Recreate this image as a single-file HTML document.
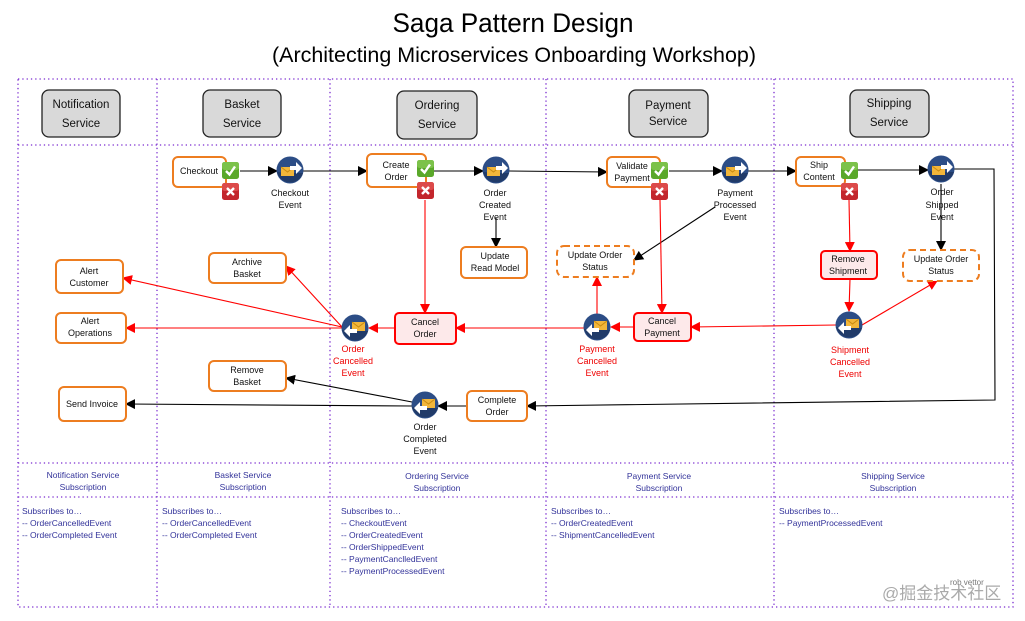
<!DOCTYPE html>
<html><head><meta charset="utf-8"><style>
html,body{margin:0;padding:0;background:#fff;width:1025px;height:621px;overflow:hidden}
svg{display:block;font-family:"Liberation Sans",sans-serif}
.n{font-size:9px;fill:#111;text-anchor:middle}
.r{font-size:9px;fill:#e00;text-anchor:middle}
.s{font-size:8.5px;fill:#33339a}
.sc{font-size:8.5px;fill:#33339a;text-anchor:middle}
.h{font-size:11.5px;fill:#111;text-anchor:middle}
</style></head><body>
<svg width="1025" height="621" viewBox="0 0 1025 621">
<defs>
<marker id="ab" markerWidth="10" markerHeight="10" refX="9" refY="5" orient="auto" markerUnits="userSpaceOnUse"><path d="M0,0 L10,5 L0,10z" fill="#000"/></marker>
<marker id="ar" markerWidth="10" markerHeight="10" refX="9" refY="5" orient="auto" markerUnits="userSpaceOnUse"><path d="M0,0 L10,5 L0,10z" fill="#f00"/></marker>
<g id="evR"><circle r="13.5" fill="#2c4d86"/><path d="M-13,2 A13.5,13.5 0 0 0 13,3 L0,3z" fill="#213b69"/><rect x="-9" y="-3" width="13" height="9" fill="#f2b63a"/><path d="M-9,-3 L-2.5,2 L4,-3" fill="none" stroke="#c98a10" stroke-width="1"/><path d="M0,-4 L6,-4 L6,-8 L12,-2 L6,4 L6,0 L0,0z" fill="#fff"/></g>
<g id="evL"><circle r="13.5" fill="#2c4d86"/><path d="M-13,2 A13.5,13.5 0 0 0 13,3 L0,3z" fill="#213b69"/><rect x="-3" y="-6" width="13" height="9" fill="#f2b63a"/><path d="M-3,-6 L3.5,-1 L10,-6" fill="none" stroke="#c98a10" stroke-width="1"/><path d="M2,1 L-5,1 L-5,-3 L-11,3 L-5,9 L-5,5 L2,5z" fill="#fff"/></g>
<g id="ok"><rect width="17" height="17" rx="2.5" fill="#5aa82a"/><rect width="17" height="8" rx="2.5" fill="#7cc24a"/><path d="M4,9 L7.5,12.5 L13,4.5" fill="none" stroke="#fff" stroke-width="2.4"/></g>
<g id="no"><rect width="17" height="17" rx="2.5" fill="#c3262c"/><rect width="17" height="8" rx="2.5" fill="#dc4a4a"/><path d="M5,5 L12,12 M12,5 L5,12" stroke="#fff" stroke-width="2.4"/></g>
</defs>

<text x="513" y="32" font-size="27" text-anchor="middle" textLength="241" lengthAdjust="spacingAndGlyphs">Saga Pattern Design</text>
<text x="514" y="62" font-size="21" text-anchor="middle" textLength="484" lengthAdjust="spacingAndGlyphs">(Architecting Microservices Onboarding Workshop)</text>

<g stroke="#7a2bd0" stroke-width="1.3" stroke-dasharray="1.3,3" fill="none">
<rect x="18" y="79" width="995" height="528"/>
<line x1="18" y1="145" x2="1013" y2="145"/>
<line x1="18" y1="463" x2="1013" y2="463"/>
<line x1="18" y1="497" x2="1013" y2="497"/>
<line x1="157" y1="79" x2="157" y2="607"/>
<line x1="330" y1="79" x2="330" y2="607"/>
<line x1="546" y1="79" x2="546" y2="607"/>
<line x1="774" y1="79" x2="774" y2="607"/>
</g>

<g fill="#d9d9d9" stroke="#222" stroke-width="1.3">
<rect x="42" y="90" width="78" height="47" rx="7"/>
<rect x="203" y="90" width="78" height="47" rx="7"/>
<rect x="397" y="91" width="80" height="48" rx="7"/>
<rect x="629" y="90" width="79" height="47" rx="7"/>
<rect x="850" y="90" width="79" height="47" rx="7"/>
</g>
<text class="h" x="81" y="108">Notification</text><text class="h" x="81" y="127">Service</text>
<text class="h" x="242" y="108">Basket</text><text class="h" x="242" y="127">Service</text>
<text class="h" x="437" y="109">Ordering</text><text class="h" x="437" y="128">Service</text>
<text class="h" x="668" y="109">Payment</text><text class="h" x="668" y="125">Service</text>
<text class="h" x="889" y="107">Shipping</text><text class="h" x="889" y="126">Service</text>

<!-- connectors black -->
<g stroke="#000" stroke-width="1.1" fill="none" marker-end="url(#ab)">
<line x1="240" y1="171" x2="277" y2="171"/>
<line x1="303" y1="171" x2="367" y2="171"/>
<line x1="434" y1="171" x2="483" y2="171"/>
<line x1="509" y1="171" x2="607" y2="172"/>
<line x1="669" y1="171" x2="722" y2="171"/>
<line x1="748" y1="171" x2="796" y2="171"/>
<line x1="858" y1="170" x2="928" y2="170"/>
<polyline points="954,169 994,169 995,400 527,406"/>
<line x1="941" y1="184" x2="941" y2="250"/>
<line x1="715" y1="207" x2="634" y2="260"/>
<line x1="496" y1="218" x2="496" y2="247"/>
<line x1="467" y1="406" x2="438" y2="406"/>
<line x1="412" y1="406" x2="126" y2="404"/>
<line x1="412" y1="402" x2="286" y2="378"/>
</g>
<!-- connectors red -->
<g stroke="#f00" stroke-width="1.1" fill="none" marker-end="url(#ar)">
<line x1="425" y1="200" x2="425" y2="313"/>
<line x1="660" y1="200" x2="662" y2="313"/>
<line x1="849" y1="200" x2="850" y2="251"/>
<line x1="850" y1="279" x2="849" y2="311"/>
<line x1="836" y1="325" x2="691" y2="327"/>
<line x1="862" y1="325" x2="937" y2="281"/>
<line x1="634" y1="327" x2="611" y2="327"/>
<line x1="597" y1="314" x2="597" y2="277"/>
<line x1="584" y1="328" x2="456" y2="328"/>
<line x1="395" y1="328" x2="369" y2="328"/>
<line x1="342" y1="327" x2="123" y2="278"/>
<line x1="342" y1="328" x2="126" y2="328"/>
<line x1="342" y1="327" x2="286" y2="266"/>
</g>

<!-- orange nodes -->
<g fill="#fff" stroke="#ed7d20" stroke-width="2">
<rect x="173" y="157" width="53" height="30" rx="5"/>
<rect x="367" y="154" width="59" height="33" rx="5"/>
<rect x="461" y="247" width="66" height="31" rx="5"/>
<rect x="607" y="157" width="53" height="30" rx="5"/>
<rect x="796" y="157" width="49" height="29" rx="5"/>
<rect x="56" y="260" width="67" height="33" rx="5"/>
<rect x="56" y="313" width="70" height="30" rx="5"/>
<rect x="209" y="253" width="77" height="30" rx="5"/>
<rect x="209" y="361" width="77" height="30" rx="5"/>
<rect x="59" y="387" width="67" height="34" rx="5"/>
<rect x="467" y="391" width="60" height="30" rx="5"/>
</g>
<g fill="#fff" stroke="#ed7d20" stroke-width="2" stroke-dasharray="6,4">
<rect x="557" y="246" width="77" height="31" rx="7"/>
<rect x="903" y="250" width="76" height="31" rx="7"/>
</g>
<g fill="#fde9ea" stroke="#f00" stroke-width="2">
<rect x="821" y="251" width="56" height="28" rx="4"/>
<rect x="634" y="313" width="57" height="28" rx="4"/>
<rect x="395" y="313" width="61" height="31" rx="4"/>
</g>

<use href="#ok" x="222" y="162"/><use href="#no" x="222" y="183"/>
<use href="#ok" x="417" y="160"/><use href="#no" x="417" y="182"/>
<use href="#ok" x="651" y="162"/><use href="#no" x="651" y="183"/>
<use href="#ok" x="841" y="162"/><use href="#no" x="841" y="183"/>

<use href="#evR" x="290" y="170"/>
<use href="#evR" x="496" y="170"/>
<use href="#evR" x="735" y="170"/>
<use href="#evR" x="941" y="169"/>
<use href="#evL" x="355" y="328"/>
<use href="#evL" x="597" y="327"/>
<use href="#evL" x="849" y="325"/>
<use href="#evL" x="425" y="405"/>

<text class="n" x="199" y="174">Checkout</text>
<text class="n" x="290" y="196">Checkout</text><text class="n" x="290" y="208">Event</text>
<text class="n" x="396" y="168">Create</text><text class="n" x="396" y="180">Order</text>
<text class="n" x="495" y="196">Order</text><text class="n" x="495" y="208">Created</text><text class="n" x="495" y="220">Event</text>
<text class="n" x="495" y="259">Update</text><text class="n" x="495" y="271">Read Model</text>
<text class="n" x="632" y="169">Validate</text><text class="n" x="632" y="181">Payment</text>
<text class="n" x="735" y="196">Payment</text><text class="n" x="735" y="208">Processed</text><text class="n" x="735" y="220">Event</text>
<text class="n" x="819" y="168">Ship</text><text class="n" x="819" y="180">Content</text>
<text class="n" x="942" y="195">Order</text><text class="n" x="942" y="208">Shipped</text><text class="n" x="942" y="220">Event</text>
<text class="n" x="595" y="258">Update Order</text><text class="n" x="595" y="270">Status</text>
<text class="n" x="941" y="262">Update Order</text><text class="n" x="941" y="274">Status</text>
<text class="n" x="848" y="262">Remove</text><text class="n" x="848" y="274">Shipment</text>
<text class="n" x="662" y="324">Cancel</text><text class="n" x="662" y="336">Payment</text>
<text class="n" x="425" y="325">Cancel</text><text class="n" x="425" y="337">Order</text>
<text class="n" x="89" y="274">Alert</text><text class="n" x="89" y="286">Customer</text>
<text class="n" x="90" y="324">Alert</text><text class="n" x="90" y="336">Operations</text>
<text class="n" x="247" y="265">Archive</text><text class="n" x="247" y="277">Basket</text>
<text class="n" x="247" y="373">Remove</text><text class="n" x="247" y="385">Basket</text>
<text class="n" x="92" y="407">Send Invoice</text>
<text class="n" x="497" y="403">Complete</text><text class="n" x="497" y="415">Order</text>
<text class="n" x="425" y="430">Order</text><text class="n" x="425" y="442">Completed</text><text class="n" x="425" y="454">Event</text>
<text class="r" x="353" y="352">Order</text><text class="r" x="353" y="364">Cancelled</text><text class="r" x="353" y="376">Event</text>
<text class="r" x="597" y="352">Payment</text><text class="r" x="597" y="364">Cancelled</text><text class="r" x="597" y="376">Event</text>
<text class="r" x="850" y="353">Shipment</text><text class="r" x="850" y="365">Cancelled</text><text class="r" x="850" y="377">Event</text>

<text class="sc" x="83" y="478">Notification  Service</text><text class="sc" x="83" y="490">Subscription</text>
<text class="sc" x="243" y="478">Basket Service</text><text class="sc" x="243" y="490">Subscription</text>
<text class="sc" x="437" y="479">Ordering Service</text><text class="sc" x="437" y="491">Subscription</text>
<text class="sc" x="659" y="479">Payment Service</text><text class="sc" x="659" y="491">Subscription</text>
<text class="sc" x="893" y="479">Shipping Service</text><text class="sc" x="893" y="491">Subscription</text>

<text class="s" x="22" y="514">Subscribes to…</text><text class="s" x="22" y="526">-- OrderCancelledEvent</text><text class="s" x="22" y="538">-- OrderCompleted Event</text>
<text class="s" x="162" y="514">Subscribes to…</text><text class="s" x="162" y="526">-- OrderCancelledEvent</text><text class="s" x="162" y="538">-- OrderCompleted Event</text>
<text class="s" x="341" y="514">Subscribes to…</text><text class="s" x="341" y="526">-- CheckoutEvent</text><text class="s" x="341" y="538">-- OrderCreatedEvent</text><text class="s" x="341" y="550">-- OrderShippedEvent</text><text class="s" x="341" y="562">-- PaymentCanclledEvent</text><text class="s" x="341" y="574">-- PaymentProcessedEvent</text>
<text class="s" x="551" y="514">Subscribes to…</text><text class="s" x="551" y="526">-- OrderCreatedEvent</text><text class="s" x="551" y="538">-- ShipmentCancelledEvent</text>
<text class="s" x="779" y="514">Subscribes to…</text><text class="s" x="779" y="526">-- PaymentProcessedEvent</text>

<text x="950" y="585" font-size="8" fill="#777">rob vettor</text>
<text x="882" y="599" font-size="17" fill="#aaa" font-family="'Liberation Sans','Noto Sans CJK SC',sans-serif">@掘金技术社区</text>
</svg>
</body></html>
